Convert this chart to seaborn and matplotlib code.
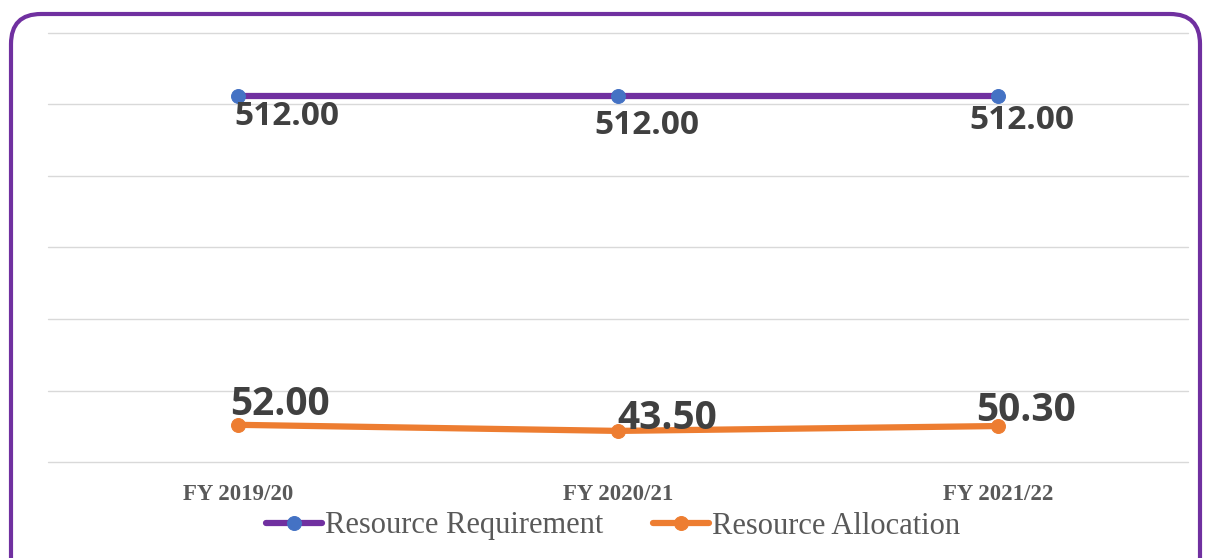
#!/usr/bin/env python
# coding: utf-8

import numpy as np
import pandas as pd
import matplotlib
matplotlib.use('Agg')
import seaborn as sns
import matplotlib.pyplot as plt
from matplotlib.patches import FancyBboxPatch

sns.set_theme(style="white")

years = ["FY 2019/20", "FY 2020/21", "FY 2021/22"]
requirement = [512.00, 512.00, 512.00]
allocation = [52.00, 43.50, 50.30]
series_names = ["Resource Requirement", "Resource Allocation"]

# label offsets in pixels (dx, dy), as placed in the original
req_offsets = [(49, -21), (29, -30), (24, -25)]
alloc_offsets = [(42, 20), (49, 12), (28, 16)]

purple = "#7030A0"
blue = "#4472C4"
orange = "#ED7D31"

df = pd.DataFrame({
    "year": years * 2,
    "value": requirement + allocation,
    "series": [series_names[0]] * 3 + [series_names[1]] * 3,
})

fig = plt.figure(figsize=(12.05, 5.58), dpi=100)
ax = fig.add_axes([48 / 1205, 1 - 462 / 558, 1140 / 1205, 429 / 558])

sns.lineplot(data=df[df.series == series_names[0]], x="year", y="value", ax=ax,
             color=purple, lw=4.5, marker="o", markersize=10,
             markerfacecolor=blue, markeredgecolor=blue, label=series_names[0])
sns.lineplot(data=df[df.series == series_names[1]], x="year", y="value", ax=ax,
             color=orange, lw=4.5, marker="o", markersize=10,
             markerfacecolor=orange, markeredgecolor=orange, label=series_names[1])

for vals, offs, fs in [(requirement, req_offsets, 24), (allocation, alloc_offsets, 28)]:
    for i, (v, o) in enumerate(zip(vals, offs)):
        ax.annotate(f"{v:.2f}", (i, v), xytext=o, textcoords="offset pixels",
                    ha="center", va="center", fontsize=fs, fontweight="bold",
                    color="#404040", family=["Open Sans", "DejaVu Sans"])

ax.set_xlim(-0.5, 2.5)
ax.set_ylim(0, 600)
ax.set_yticks(np.arange(0, 601, 100))
ax.set_yticklabels([])
ax.grid(axis="y", color="#D9D9D9", lw=1)
ax.grid(axis="x", visible=False)
for gl in ax.get_ygridlines():
    gl.set_clip_on(False)
ax.tick_params(axis="y", length=0)
ax.tick_params(axis="x", length=0, pad=16)
for lab in ax.get_xticklabels():
    lab.set_family(["Liberation Serif", "DejaVu Serif"])
    lab.set_fontweight("bold")
    lab.set_fontsize(16.5)
    lab.set_color("#595959")
ax.set_xlabel("")
ax.set_ylabel("")
sns.despine(ax=ax, left=True, bottom=True)

handles, labels = ax.get_legend_handles_labels()
ax.get_legend().remove()
fig.legend(handles, labels, loc="center", bbox_to_anchor=(613 / 1205, 1 - 526 / 558),
           ncol=2, frameon=False, handlelength=1.85, columnspacing=1.6, handletextpad=0.1,
           prop={"family": ["Liberation Serif", "DejaVu Serif"], "size": 22},
           labelcolor="#595959")

border = FancyBboxPatch((0.11, -0.5), 11.89, 5.94, boxstyle="round,pad=0,rounding_size=0.3",
                        transform=fig.dpi_scale_trans, fill=False, edgecolor=purple, lw=3,
                        clip_on=False)
fig.patches.append(border)

plt.savefig("out.png", dpi=100)
